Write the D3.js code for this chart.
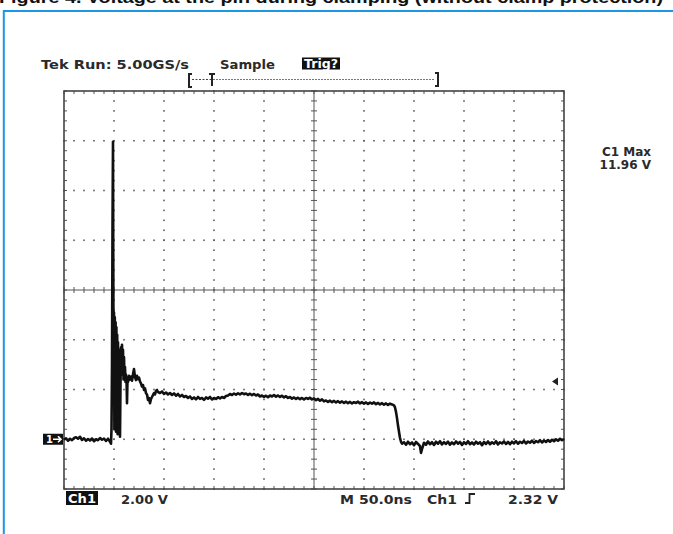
<!DOCTYPE html>
<html>
<head>
<meta charset="utf-8">
<script src="https://cdn.jsdelivr.net/npm/d3@7"></script>
<style>
  html, body { margin: 0; padding: 0; background: #fff; }
  svg { display: block; }
  text { font-family: "DejaVu Sans", sans-serif; fill: #2a2a2a; font-weight: bold; }
</style>
</head>
<body>
<svg id="scope" width="673" height="534"></svg>
<script>
// Channel 1 capture, time in ns from the left edge of the screen, amplitude in volts.
const preTrigger = [
  [0,-0.02],[2,0.04],[4,-0.06],[6,0.02],[8,-0.04],[10,0.05],[12,0.08],[14,0.02],[16,0.10],
  [18,-0.03],[20,0.04],[22,-0.06],[24,0.01],[26,-0.05],[28,0.03],[30,-0.08],[32,0.00],
  [34,-0.04],[36,0.05],[38,-0.02],[40,0.03],[42,-0.07],[44,0.02],[46,-0.10],[47,-0.18]
];
const spikeRinging = [
  [47.5,0.40],[48,3.0],[48.5,8.5],[49,11.96],[49.3,7.0],[49.6,2.0],[50,5.1],[50.4,0.4],
  [50.8,4.9],[51.2,0.7],[51.6,4.7],[52,0.3],[52.4,4.5],[52.8,0.6],[53.2,4.2],[53.6,0.2],
  [54,3.9],[54.4,1.0],[54.8,3.6],[55.2,0.4],[55.6,3.2],[56,0.1],[56.5,2.2],[57,3.7],
  [57.5,2.6],[58,3.8],[58.5,2.8],[59,3.6],[59.5,2.4],[60,3.3],[60.5,2.5],[61,2.9],
  [61.5,2.3],[62,2.6],[62.5,2.45],[63,1.45],[63.5,2.4]
];
const plateau = [
  [64,2.30],[65,2.55],[66,2.40],[67,2.52],[68,2.35],[69,2.60],[70,2.82],[71,2.50],[72,2.38],
  [73,2.55],[74,2.42],[75,2.48],[76,2.32],[77,2.25],[78,2.12],[79,2.18],[80,1.98],[81,2.05],
  [82,1.85],[83,1.80],[84,1.58],[85,1.65],[86,1.45],[87,1.62],[88,1.70],[89,1.78],[90,1.85],
  [91,1.80],[92,1.95],[93,1.98],[94,1.90],[96,1.86],[98,1.92],[100,1.82],[102,1.88],
  [104,1.80],[106,1.86],[108,1.78],[110,1.84],[112,1.75],[114,1.82],[116,1.72],[118,1.78],
  [120,1.70],[122,1.74],[124,1.66],[126,1.72],[128,1.62],[130,1.68],[132,1.60],[134,1.70],
  [136,1.62],[138,1.66],[140,1.58],[142,1.68],[144,1.63],[146,1.70],[148,1.60],[150,1.66],
  [152,1.62],[154,1.69],[156,1.64],[158,1.70],[160,1.66],[162,1.74],[164,1.76],[166,1.82],
  [168,1.78],[170,1.84],[172,1.79],[174,1.85],[176,1.80],[178,1.86],[180,1.81],[182,1.84],
  [184,1.78],[186,1.83],[188,1.77],[190,1.82],[192,1.76],[194,1.80],[196,1.72],[198,1.76],
  [200,1.70],[202,1.75],[204,1.69],[206,1.76],[208,1.72],[210,1.78],[212,1.71],[214,1.76],
  [216,1.70],[218,1.75],[220,1.68],[222,1.73],[224,1.66],[226,1.70],[228,1.63],[230,1.68],
  [232,1.62],[234,1.67],[236,1.61],[238,1.66],[240,1.60],[242,1.66],[244,1.62],[246,1.67],
  [248,1.60],[250,1.64],[252,1.57],[254,1.62],[256,1.55],[258,1.60],[260,1.52],[262,1.56],
  [264,1.50],[266,1.55],[268,1.49],[270,1.54],[272,1.48],[274,1.53],[276,1.47],[278,1.52],
  [280,1.46],[282,1.51],[284,1.45],[286,1.50],[288,1.44],[290,1.49],[292,1.46],[294,1.51],
  [296,1.44],[298,1.49],[300,1.43],[302,1.48],[304,1.42],[306,1.47],[308,1.43],[310,1.48],
  [312,1.41],[314,1.46],[316,1.40],[318,1.45],[320,1.39],[322,1.44],[324,1.38],[326,1.43],
  [328,1.40],[330,1.36],[331,1.28]
];
const fallingEdge = [
  [332,1.10],[333,0.85],[334,0.55],[335,0.30],[336,0.05],[337,-0.10],[338,-0.18]
];
const tail = [
  [340,-0.12],[342,-0.22],[344,-0.10],[346,-0.20],[348,-0.13],[350,-0.24],[352,-0.11],
  [354,-0.19],[356,-0.28],[357,-0.55],[358,-0.40],[360,-0.14],[362,-0.22],[364,-0.09],
  [366,-0.20],[368,-0.12],[370,-0.23],[372,-0.10],[374,-0.18],[376,-0.08],[378,-0.21],
  [380,-0.12],[382,-0.19],[384,-0.10],[386,-0.22],[388,-0.13],[390,-0.20],[392,-0.09],
  [394,-0.18],[396,-0.11],[398,-0.23],[400,-0.12],[402,-0.19],[404,-0.08],[406,-0.20],
  [408,-0.13],[410,-0.21],[412,-0.10],[414,-0.18],[416,-0.12],[418,-0.24],[420,-0.11],
  [422,-0.19],[424,-0.09],[426,-0.20],[428,-0.12],[430,-0.18],[432,-0.08],[434,-0.21],
  [436,-0.12],[438,-0.17],[440,-0.09],[442,-0.19],[444,-0.11],[446,-0.20],[448,-0.10],
  [450,-0.17],[452,-0.08],[454,-0.18],[456,-0.10],[458,-0.15],[460,-0.07],[462,-0.17],
  [464,-0.09],[466,-0.14],[468,-0.06],[470,-0.15],[472,-0.07],[474,-0.12],[476,-0.04],
  [478,-0.13],[480,-0.05],[482,-0.11],[484,-0.03],[486,-0.10],[488,-0.02],[490,-0.08],
  [492,0.00],[494,-0.06],[496,0.02],[498,-0.04],[500,0.01]
];

// Screen settings and readouts
const timeSpanNs = [0, 500];        // 10 div x 50 ns
const voltSpan = [-2, 14];          // 8 div x 2 V, ground one division above bottom
const triggerLevel = 2.32;
const headerLabels = ["Tek Run: 5.00GS/s", "Sample", "Trig?"];
const measureLabels = ["C1 Max", "11.96 V"];
const footerLabels = ["Ch1", "2.00 V", "M 50.0ns", "Ch1", "2.32 V"];
const captionText = "Figure 4. Voltage at the pin during clamping (without clamp protection)";

const svg = d3.select("#scope");
const plotL = 64, plotR = 564, plotT = 91, plotB = 489;

const x = d3.scaleLinear().domain(timeSpanNs).range([plotL, plotR]);
const y = d3.scaleLinear().domain(voltSpan).range([plotB, plotT]);

// caption line, mostly clipped at the top of the page
svg.append("text")
  .attr("x", -1).attr("y", 2.5)
  .attr("textLength", 664).attr("lengthAdjust", "spacingAndGlyphs")
  .style("font-family", "'Liberation Sans', Arial, sans-serif")
  .style("font-weight", "bold").style("font-size", "17px").style("fill", "#111")
  .text(captionText);

// blue frame
svg.append("path")
  .attr("d", "M3.8,534 V11 H673")
  .attr("fill", "none").attr("stroke", "#1b97e6").attr("stroke-width", 2);

// graticule
const g = svg.append("g");
const xDivs = d3.range(0, 501, 50);
const yDivs = d3.range(-2, 14.01, 2);
const xMinor = d3.range(0, 501, 10);
const yMinor = d3.range(-2, 14.01, 0.4);

// dotted division lines
xDivs.filter(t => t !== 0 && t !== 500 && t !== 250).forEach(t => {
  g.selectAll(null).data(yMinor).enter().append("rect")
    .attr("x", x(t) - 0.8).attr("y", d => y(d) - 0.8)
    .attr("width", 1.6).attr("height", 1.6).attr("fill", "#5e5e5e");
});
yDivs.filter(v => v !== -2 && v !== 14 && v !== 6).forEach(v => {
  g.selectAll(null).data(xMinor).enter().append("rect")
    .attr("x", d => x(d) - 0.8).attr("y", y(v) - 0.8)
    .attr("width", 1.6).attr("height", 1.6).attr("fill", "#5e5e5e");
});

// centre cross with minor ticks
g.append("line").attr("x1", plotL).attr("x2", plotR).attr("y1", y(6)).attr("y2", y(6))
  .attr("stroke", "#555").attr("stroke-width", 1);
g.append("line").attr("x1", x(250)).attr("x2", x(250)).attr("y1", plotT).attr("y2", plotB)
  .attr("stroke", "#555").attr("stroke-width", 1);
g.selectAll(null).data(xMinor).enter().append("line")
  .attr("x1", d => x(d)).attr("x2", d => x(d))
  .attr("y1", y(6) - 3).attr("y2", y(6) + 3)
  .attr("stroke", "#555").attr("stroke-width", 1);
g.selectAll(null).data(yMinor).enter().append("line")
  .attr("x1", x(250) - 3).attr("x2", x(250) + 3)
  .attr("y1", d => y(d)).attr("y2", d => y(d))
  .attr("stroke", "#555").attr("stroke-width", 1);

// border ticks
g.selectAll(null).data(xMinor).enter().append("line")
  .attr("x1", d => x(d)).attr("x2", d => x(d)).attr("y1", plotT).attr("y2", plotT + 3)
  .attr("stroke", "#555").attr("stroke-width", 1);
g.selectAll(null).data(xMinor).enter().append("line")
  .attr("x1", d => x(d)).attr("x2", d => x(d)).attr("y1", plotB).attr("y2", plotB - 3)
  .attr("stroke", "#555").attr("stroke-width", 1);
g.selectAll(null).data(yMinor).enter().append("line")
  .attr("x1", plotL).attr("x2", plotL + 3).attr("y1", d => y(d)).attr("y2", d => y(d))
  .attr("stroke", "#555").attr("stroke-width", 1);
g.selectAll(null).data(yMinor).enter().append("line")
  .attr("x1", plotR).attr("x2", plotR - 3).attr("y1", d => y(d)).attr("y2", d => y(d))
  .attr("stroke", "#555").attr("stroke-width", 1);

g.append("rect").attr("x", plotL).attr("y", plotT)
  .attr("width", plotR - plotL).attr("height", plotB - plotT)
  .attr("fill", "none").attr("stroke", "#444").attr("stroke-width", 1.6);

// waveform
const trace = [].concat(preTrigger, spikeRinging, plateau, fallingEdge, tail);
const line = d3.line().x(d => x(d[0])).y(d => y(d[1]));
svg.append("path").datum(trace)
  .attr("d", line)
  .attr("fill", "none").attr("stroke", "#111").attr("stroke-width", 2.6)
  .attr("stroke-linejoin", "round");

// ground marker "1 ->"
const gy = y(0);
svg.append("rect").attr("x", 43).attr("y", gy - 5.5).attr("width", 20).attr("height", 11).attr("fill", "#111");
svg.append("text").attr("x", 46).attr("y", gy + 4).style("font-size", "10px")
  .style("fill", "#fff").text("1");
svg.append("path").attr("d", `M53,${gy} H61 M58,${gy - 3} L61,${gy} L58,${gy + 3}`)
  .attr("fill", "none").attr("stroke", "#fff").attr("stroke-width", 1.6);

// trigger level pointer
const ty = y(triggerLevel);
svg.append("path").attr("d", `M552,${ty} L558,${ty - 4} L558,${ty + 4} Z`).attr("fill", "#222");

// header readouts
svg.append("text").attr("x", 41).attr("y", 69).style("font-size", "13px")
  .attr("textLength", 148).attr("lengthAdjust", "spacingAndGlyphs").text(headerLabels[0]);
svg.append("text").attr("x", 220).attr("y", 69).style("font-size", "13px")
  .attr("textLength", 55).attr("lengthAdjust", "spacingAndGlyphs").text(headerLabels[1]);
svg.append("rect").attr("x", 302).attr("y", 57.5).attr("width", 38).attr("height", 12).attr("fill", "#111");
svg.append("text").attr("x", 304).attr("y", 68).style("font-size", "12px")
  .style("fill", "#fff").attr("textLength", 34).attr("lengthAdjust", "spacingAndGlyphs").text(headerLabels[2]);

// record view bracket with trigger point
svg.append("path").attr("d", "M192,74 H189 V87 H192").attr("fill", "none").attr("stroke", "#222").attr("stroke-width", 2);
svg.append("path").attr("d", "M435,73 H438 V86 H435").attr("fill", "none").attr("stroke", "#222").attr("stroke-width", 2);
svg.append("line").attr("x1", 192).attr("x2", 212).attr("y1", 79.5).attr("y2", 79.5)
  .attr("stroke", "#444").attr("stroke-width", 1.2).attr("stroke-dasharray", "2,1.5");
svg.append("line").attr("x1", 213).attr("x2", 435).attr("y1", 79.5).attr("y2", 79.5)
  .attr("stroke", "#777").attr("stroke-width", 1.2).attr("stroke-dasharray", "2,1");
svg.append("path").attr("d", "M209,74 H215 M212,74 V86").attr("fill", "none").attr("stroke", "#222").attr("stroke-width", 2);

// measurement readout
svg.append("text").attr("x", 651).attr("y", 156).attr("text-anchor", "end").style("font-size", "12px").text(measureLabels[0]);
svg.append("text").attr("x", 651).attr("y", 169).attr("text-anchor", "end").style("font-size", "12px").text(measureLabels[1]);

// footer readouts
svg.append("rect").attr("x", 66).attr("y", 491).attr("width", 32).attr("height", 14).attr("fill", "#111");
svg.append("text").attr("x", 68).attr("y", 503).style("font-size", "12px")
  .style("fill", "#fff").attr("textLength", 28).attr("lengthAdjust", "spacingAndGlyphs").text(footerLabels[0]);
svg.append("text").attr("x", 121).attr("y", 504).style("font-size", "13px")
  .attr("textLength", 47).attr("lengthAdjust", "spacingAndGlyphs").text(footerLabels[1]);
svg.append("text").attr("x", 340).attr("y", 504).style("font-size", "13px")
  .attr("textLength", 72).attr("lengthAdjust", "spacingAndGlyphs").text(footerLabels[2]);
svg.append("text").attr("x", 427).attr("y", 504).style("font-size", "13px")
  .attr("textLength", 30).attr("lengthAdjust", "spacingAndGlyphs").text(footerLabels[3]);
svg.append("path").attr("d", "M465,503 H469.5 V494 H475").attr("fill", "none").attr("stroke", "#222").attr("stroke-width", 1.8);
svg.append("text").attr("x", 508).attr("y", 504).style("font-size", "13px")
  .attr("textLength", 50).attr("lengthAdjust", "spacingAndGlyphs").text(footerLabels[4]);
</script>
</body>
</html>
